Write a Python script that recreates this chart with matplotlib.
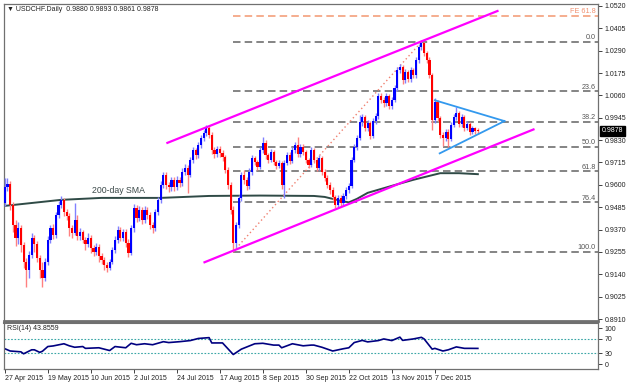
import matplotlib
matplotlib.use("Agg")
import matplotlib.pyplot as plt

plt.rcParams['font.family'] = ['Liberation Sans', 'DejaVu Sans']

# daily USDCHF candles, 27 Apr 2015 .. Dec 2015 (bar index = trading day)
opens = [0.9508, 0.9589, 0.9605, 0.9497, 0.9395, 0.9328, 0.9379, 0.9292, 0.9205, 0.9164,
         0.9241, 0.9328, 0.9297, 0.9225, 0.9164, 0.9123, 0.9205, 0.9318, 0.9379, 0.9343,
         0.9446, 0.9497, 0.9523, 0.9461, 0.9441, 0.9379, 0.9354, 0.9420, 0.9338, 0.9359,
         0.9318, 0.9297, 0.9328, 0.9277, 0.9256, 0.9282, 0.9236, 0.9215, 0.9190, 0.9174,
         0.9205, 0.9267, 0.9318, 0.9369, 0.9328, 0.9359, 0.9302, 0.9251, 0.9379, 0.9482,
         0.9431, 0.9472, 0.9420, 0.9472, 0.9446, 0.9395, 0.9379, 0.9461, 0.9523, 0.9600,
         0.9651, 0.9600, 0.9589, 0.9625, 0.9589, 0.9625, 0.9610, 0.9667, 0.9687, 0.9651,
         0.9728, 0.9779, 0.9754, 0.9805, 0.9841, 0.9867, 0.9892, 0.9856, 0.9779, 0.9759,
         0.9785, 0.9764, 0.9744, 0.9677, 0.9600, 0.9472, 0.9302, 0.9395, 0.9533, 0.9651,
         0.9625, 0.9595, 0.9667, 0.9738, 0.9718, 0.9692, 0.9779, 0.9815, 0.9754, 0.9728,
         0.9769, 0.9718, 0.9697, 0.9713, 0.9600, 0.9713, 0.9754, 0.9723, 0.9779, 0.9805,
         0.9759, 0.9795, 0.9769, 0.9728, 0.9702, 0.9779, 0.9728, 0.9687, 0.9738, 0.9667,
         0.9636, 0.9600, 0.9574, 0.9538, 0.9497, 0.9533, 0.9508, 0.9544, 0.9574, 0.9595,
         0.9728, 0.9795, 0.9841, 0.9923, 0.9949, 0.9892, 0.9918, 0.9851, 0.9928, 0.9954,
         1.0056, 1.0036, 1.0021, 1.0056, 1.0005, 1.0036, 1.0098, 1.0190, 1.0205, 1.0139,
         1.0180, 1.0144, 1.0190, 1.0164, 1.0241, 1.0308, 1.0328, 1.0277, 1.0241, 1.0164,
         0.9933, 1.0026, 0.9944, 0.9856, 0.9841, 0.9872, 0.9836, 0.9908, 0.9949, 0.9969,
         0.9913, 0.9949, 0.9892, 0.9913, 0.9872, 0.9892, 0.9880]
closes = [0.9589, 0.9605, 0.9497, 0.9395, 0.9328, 0.9379, 0.9292, 0.9205, 0.9164, 0.9241,
          0.9328, 0.9297, 0.9225, 0.9164, 0.9123, 0.9205, 0.9318, 0.9379, 0.9343, 0.9446,
          0.9497, 0.9523, 0.9461, 0.9441, 0.9379, 0.9354, 0.9420, 0.9338, 0.9359, 0.9318,
          0.9297, 0.9328, 0.9277, 0.9256, 0.9282, 0.9236, 0.9215, 0.9190, 0.9174, 0.9205,
          0.9267, 0.9318, 0.9369, 0.9328, 0.9359, 0.9302, 0.9251, 0.9379, 0.9482, 0.9431,
          0.9472, 0.9420, 0.9472, 0.9446, 0.9395, 0.9379, 0.9461, 0.9523, 0.9600, 0.9651,
          0.9600, 0.9589, 0.9625, 0.9589, 0.9625, 0.9610, 0.9667, 0.9687, 0.9651, 0.9728,
          0.9779, 0.9754, 0.9805, 0.9841, 0.9867, 0.9892, 0.9856, 0.9779, 0.9759, 0.9785,
          0.9764, 0.9744, 0.9677, 0.9600, 0.9472, 0.9302, 0.9395, 0.9533, 0.9651, 0.9625,
          0.9595, 0.9667, 0.9738, 0.9718, 0.9692, 0.9779, 0.9815, 0.9754, 0.9728, 0.9769,
          0.9718, 0.9697, 0.9713, 0.9600, 0.9713, 0.9754, 0.9723, 0.9779, 0.9805, 0.9759,
          0.9795, 0.9769, 0.9728, 0.9702, 0.9779, 0.9728, 0.9687, 0.9738, 0.9667, 0.9636,
          0.9600, 0.9574, 0.9538, 0.9497, 0.9533, 0.9508, 0.9544, 0.9574, 0.9595, 0.9728,
          0.9795, 0.9841, 0.9923, 0.9949, 0.9892, 0.9918, 0.9851, 0.9928, 0.9954, 1.0056,
          1.0036, 1.0021, 1.0056, 1.0005, 1.0036, 1.0098, 1.0190, 1.0205, 1.0139, 1.0180,
          1.0144, 1.0190, 1.0164, 1.0241, 1.0308, 1.0328, 1.0277, 1.0241, 1.0164, 0.9933,
          1.0026, 0.9944, 0.9856, 0.9841, 0.9872, 0.9836, 0.9908, 0.9949, 0.9969, 0.9913,
          0.9949, 0.9892, 0.9913, 0.9872, 0.9892, 0.9877, 0.9878]
highs = [0.9636, 0.9636, 0.9620, 0.9510, 0.9420, 0.9410, 0.9395, 0.9305, 0.9225, 0.9260,
         0.9354, 0.9343, 0.9310, 0.9240, 0.9205, 0.9225, 0.9338, 0.9395, 0.9400, 0.9461,
         0.9515, 0.9543, 0.9535, 0.9475, 0.9455, 0.9395, 0.9507, 0.9446, 0.9379, 0.9370,
         0.9330, 0.9350, 0.9340, 0.9290, 0.9300, 0.9297, 0.9250, 0.9230, 0.9205, 0.9220,
         0.9282, 0.9338, 0.9390, 0.9385, 0.9375, 0.9372, 0.9320, 0.9395, 0.9502, 0.9495,
         0.9490, 0.9485, 0.9490, 0.9488, 0.9460, 0.9410, 0.9478, 0.9540, 0.9620, 0.9668,
         0.9665, 0.9615, 0.9640, 0.9640, 0.9645, 0.9640, 0.9685, 0.9705, 0.9700, 0.9745,
         0.9795, 0.9790, 0.9820, 0.9858, 0.9882, 0.9907, 0.9907, 0.9870, 0.9795, 0.9800,
         0.9800, 0.9780, 0.9755, 0.9690, 0.9615, 0.9490, 0.9410, 0.9548, 0.9668, 0.9675,
         0.9640, 0.9685, 0.9755, 0.9750, 0.9730, 0.9795, 0.9846, 0.9830, 0.9765, 0.9785,
         0.9780, 0.9730, 0.9730, 0.9725, 0.9730, 0.9770, 0.9768, 0.9795, 0.9820, 0.9846,
         0.9810, 0.9808, 0.9780, 0.9740, 0.9795, 0.9790, 0.9740, 0.9755, 0.9750, 0.9680,
         0.9650, 0.9615, 0.9590, 0.9550, 0.9548, 0.9548, 0.9560, 0.9590, 0.9612, 0.9745,
         0.9812, 0.9858, 0.9959, 0.9965, 0.9960, 0.9935, 0.9930, 0.9945, 0.9970, 1.0072,
         1.0070, 1.0050, 1.0072, 1.0066, 1.0052, 1.0115, 1.0205, 1.0222, 1.0215, 1.0196,
         1.0192, 1.0205, 1.0202, 1.0256, 1.0322, 1.0343, 1.0335, 1.0290, 1.0255, 1.0175,
         1.0046, 1.0036, 0.9955, 0.9870, 0.9888, 0.9885, 0.9925, 0.9965, 1.0000, 0.9980,
         0.9962, 0.9960, 0.9928, 0.9925, 0.9905, 0.9900, 0.9893]
lows = [0.9492, 0.9570, 0.9472, 0.9359, 0.9287, 0.9297, 0.9256, 0.9174, 0.9077, 0.9123,
        0.9225, 0.9256, 0.9205, 0.9123, 0.9077, 0.9108, 0.9190, 0.9300, 0.9320, 0.9328,
        0.9430, 0.9482, 0.9440, 0.9420, 0.9338, 0.9328, 0.9340, 0.9318, 0.9318, 0.9300,
        0.9267, 0.9282, 0.9251, 0.9236, 0.9240, 0.9205, 0.9195, 0.9164, 0.9154, 0.9160,
        0.9195, 0.9251, 0.9300, 0.9310, 0.9310, 0.9280, 0.9231, 0.9240, 0.9360, 0.9410,
        0.9415, 0.9400, 0.9405, 0.9425, 0.9375, 0.9353, 0.9365, 0.9445, 0.9505, 0.9585,
        0.9580, 0.9565, 0.9570, 0.9570, 0.9575, 0.9590, 0.9595, 0.9650, 0.9559, 0.9640,
        0.9712, 0.9735, 0.9740, 0.9790, 0.9825, 0.9850, 0.9840, 0.9760, 0.9740, 0.9745,
        0.9745, 0.9725, 0.9660, 0.9580, 0.9450, 0.9257, 0.9280, 0.9380, 0.9515, 0.9605,
        0.9575, 0.9580, 0.9650, 0.9700, 0.9675, 0.9680, 0.9765, 0.9735, 0.9710, 0.9715,
        0.9700, 0.9680, 0.9685, 0.9580, 0.9533, 0.9700, 0.9705, 0.9710, 0.9765, 0.9745,
        0.9745, 0.9755, 0.9710, 0.9685, 0.9690, 0.9712, 0.9670, 0.9675, 0.9650, 0.9620,
        0.9585, 0.9555, 0.9520, 0.9482, 0.9485, 0.9490, 0.9495, 0.9525, 0.9560, 0.9585,
        0.9715, 0.9780, 0.9830, 0.9905, 0.9875, 0.9878, 0.9835, 0.9840, 0.9915, 0.9940,
        1.0020, 1.0000, 1.0005, 0.9990, 0.9990, 1.0025, 1.0085, 1.0175, 1.0120, 1.0125,
        1.0128, 1.0130, 1.0150, 1.0150, 1.0228, 1.0295, 1.0262, 1.0225, 1.0148, 0.9882,
        0.9918, 0.9928, 0.9840, 0.9800, 0.9828, 0.9795, 0.9825, 0.9895, 0.9935, 0.9898,
        0.9900, 0.9878, 0.9880, 0.9858, 0.9860, 0.9862, 0.9861]

# 200-day SMA, read at a few bars
sma_idx = [0, 21, 36, 58, 76, 95, 115, 119, 125, 128, 131, 135, 144, 152, 162, 169, 176]
sma_val = [0.9492, 0.9523, 0.9533, 0.9533, 0.9543, 0.9545, 0.9543, 0.9538, 0.9518, 0.9510,
           0.9528, 0.9559, 0.9595, 0.9626, 0.9660, 0.9660, 0.9655]

# RSI(14)
rsi_idx = [0, 2, 6, 7, 10, 11, 13, 14, 16, 18, 22, 24, 26, 29, 30, 35, 37, 39, 41, 45,
           47, 49, 52, 55, 59, 61, 65, 69, 72, 76, 77, 81, 85, 88, 93, 96, 100, 102, 103, 107,
           111, 114, 115, 118, 122, 126, 128, 130, 133, 135, 139, 141, 144, 147, 148, 152, 155, 156, 159,
           160, 163, 165, 168, 171, 173, 176]
rsi_val = [43, 36.7, 34.4, 29, 40, 40, 33, 36, 49, 50.7, 56.7, 51, 47, 49, 44, 45.6, 41.8, 38, 49, 45.6,
           58, 54, 56.7, 54, 62.4, 60, 62.4, 65.5, 71.3, 73.6, 58.9, 59, 27, 41.8, 56.7, 58, 53, 53, 45.6, 56.7,
           51, 53, 53, 47, 36.7, 43, 45.6, 60, 66, 61.8, 65.5, 70, 65.5, 75, 66, 70, 74.4, 70, 41.8,
           44, 36.7, 40, 48, 44, 44, 43.8559]

date_idx = [0, 16, 32, 48, 64, 80, 96, 112, 128, 144, 160]
date_labels = ['27 Apr 2015', '19 May 2015', '10 Jun 2015', '2 Jul 2015', '24 Jul 2015',
               '17 Aug 2015', '8 Sep 2015', '30 Sep 2015', '22 Oct 2015', '13 Nov 2015', '7 Dec 2015']

price_ticks = [0.8910, 0.9025, 0.9140, 0.9255, 0.9370, 0.9485, 0.9600, 0.9715, 0.9830,
               0.9945, 1.0060, 1.0175, 1.0290, 1.0405, 1.0520]

# fibonacci retracement of the Aug low -> Nov high swing
fib_start = 85
fib_levels = [1.0335, 1.0081, 0.9923, 0.9796, 0.9669, 0.9511, 0.9257]
fib_names = ['0.0', '23.6', '38.2', '50.0', '61.8', '76.4', '100.0']
fe_level = 1.0468

# hand-drawn trend lines (bar index, price)
upper_ch = ([60.5, 183.3], [0.9816, 1.0494])
lower_ch = ([74.3, 196.7], [0.9202, 0.9885])
tri_upper = ([160, 185.9], [1.0035, 0.9928])
tri_lower = ([161.8, 185.9], [0.9762, 0.9928])
fib_link = ([85, 155], [0.9257, 1.0335])

last_price = 0.9878

fig = plt.figure(figsize=(6.28, 3.85), dpi=100)
ax = fig.add_axes([4 / 628, 1 - 321 / 385, 594 / 628, 317 / 385])
ax2 = fig.add_axes([4 / 628, 1 - 369 / 385, 594 / 628, 46 / 385])

xmin, xmax = -0.3, 220.7
for a in (ax, ax2):
    a.set_xlim(xmin, xmax)
    a.set_facecolor('white')
    for s in a.spines.values():
        s.set_color('#707070')
        s.set_linewidth(0.9)
    a.yaxis.tick_right()
    a.tick_params(axis='y', length=3, width=0.6, labelsize=5, pad=2, colors='#222222')
ax.spines['bottom'].set_linewidth(2)
ax2.spines['top'].set_linewidth(1.5)

ax.set_ylim(0.8900, 1.0530)
ax.set_yticks(price_ticks)
ax.set_yticklabels(['%.4f' % p for p in price_ticks])
ax.set_xticks([])

# fib levels
for lvl, name in zip(fib_levels, fib_names):
    ax.hlines(lvl, fib_start, xmax, colors='#6f6f6f', linestyles=(0, (4.5, 2.5)), linewidth=1.2, zorder=1)
    ax.text(xmax - 0.8, lvl + 0.0003, name, ha='right', va='bottom', fontsize=5.2, color='#555555')
ax.hlines(fe_level, fib_start, xmax, colors='#f4a07c', linestyles=(0, (4.5, 2.5)), linewidth=1.2, zorder=1)
ax.text(xmax - 0.8, fe_level + 0.0003, 'FE 61.8', ha='right', va='bottom', fontsize=5.2, color='#f09070')

# SMA
ax.plot(sma_idx, sma_val, color='#2f4a46', linewidth=1.4, zorder=2)
ax.text(32.5, 0.9573, '200-day SMA', fontsize=6.3, color='#3c4a4a', va='center', ha='left')

# candles
for i in range(len(closes)):
    o, c, h, l = opens[i], closes[i], highs[i], lows[i]
    up = c >= o
    body = '#0000ff' if up else '#ff0000'
    wick = '#8080ff' if up else '#ff8080'
    ax.vlines(i, l, h, colors=wick, linewidth=1.0, zorder=3)
    ax.bar(i, max(abs(c - o), 0.0003), bottom=min(o, c), width=0.8, color=body, linewidth=0, zorder=4)

# trend lines
ax.plot(*fib_link, color='#f08070', linestyle=(0, (1, 2)), linewidth=1.0, zorder=2)
ax.plot(*upper_ch, color='#ff00ff', linewidth=1.6, zorder=5)
ax.plot(*lower_ch, color='#ff00ff', linewidth=1.6, zorder=5)
ax.plot(*tri_upper, color='#3399ee', linewidth=1.3, zorder=5)
ax.plot(*tri_lower, color='#3399ee', linewidth=1.3, zorder=5)

ax.text(0.005, 0.984, '\u25bc USDCHF.Daily  0.9880 0.9893 0.9861 0.9878', transform=ax.transAxes,
        fontsize=5, color='#222222', va='center', ha='left')
ax.text(1.006, last_price, '%.4f' % last_price, transform=ax.get_yaxis_transform(),
        fontsize=5, color='white', va='center', ha='left',
        bbox=dict(boxstyle='square,pad=0.25', fc='black', ec='black'), zorder=10, clip_on=False)

# RSI panel
ax2.set_ylim(-13, 114)
ax2.set_yticks([0, 30, 70, 100])
ax2.set_yticklabels(['0', '30', '70', '100'])
ax2.hlines([30, 70], xmin, xmax, colors='#3aa6a6', linestyles=(0, (1.5, 1.5)), linewidth=0.8)
ax2.plot(rsi_idx, rsi_val, color='#000080', linewidth=1.2)
ax2.text(0.005, 0.87, 'RSI(14) 43.8559', transform=ax2.transAxes, fontsize=5,
         color='#222222', va='center', ha='left')
ax2.set_xticks(date_idx)
ax2.set_xticklabels(date_labels, ha='left')
ax2.tick_params(axis='x', length=3, width=0.6, labelsize=5, pad=1.5, colors='#222222')

fig.savefig('out.png', dpi=100, facecolor='white')
